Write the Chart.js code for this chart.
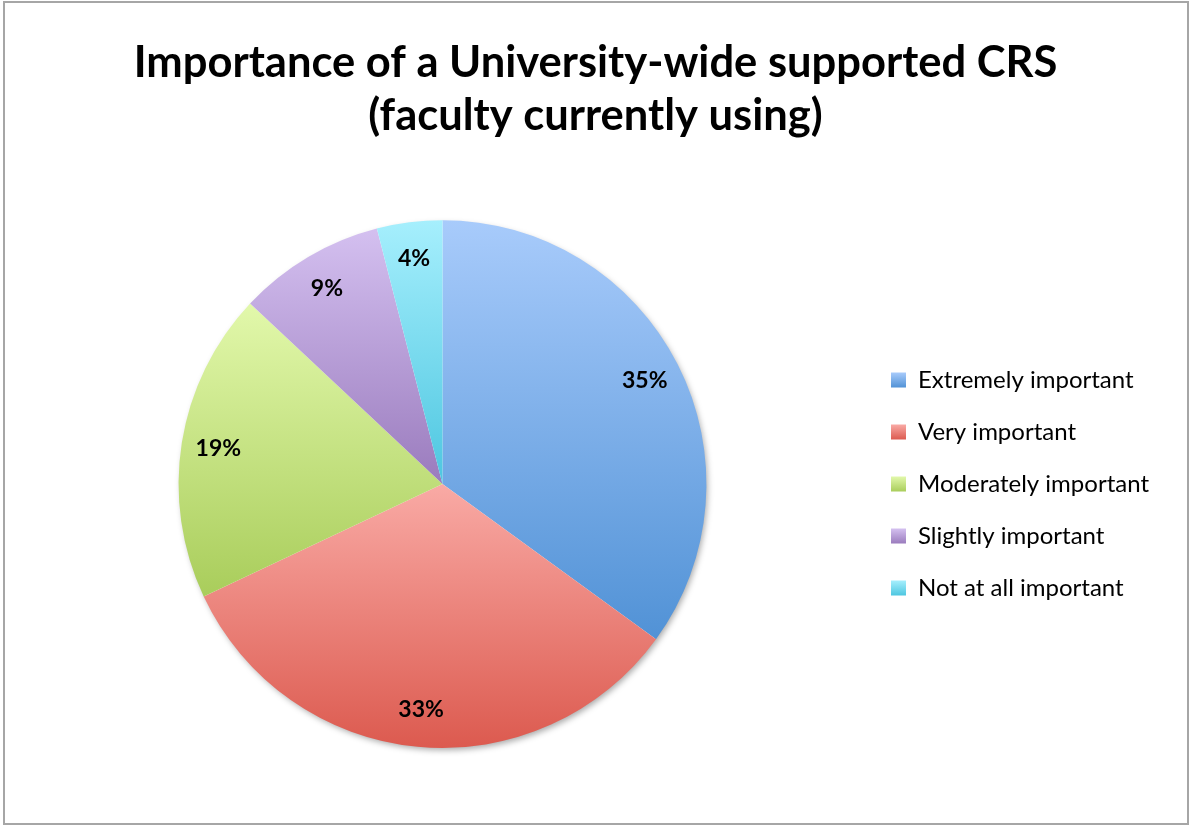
<!DOCTYPE html>
<html>
<head>
<meta charset="utf-8">
<script src="https://cdn.jsdelivr.net/npm/chart.js@4/dist/chart.umd.min.js"></script>
<style>
  html, body { margin: 0; padding: 0; background: #fff; overflow: hidden; }
  #wrap { position: absolute; left: 0; top: 0; width: 1189px; height: 825px; }
  #frame { position: absolute; left: 3px; top: 1px; width: 1186px; height: 824px; box-sizing: border-box; border: 2px solid #a6a6a6; pointer-events: none; }
</style>
</head>
<body>
<div id="wrap"><canvas id="c" width="1189" height="825"></canvas></div>
<div id="frame"></div>
<script>
const titleLines = ['Importance of a University-wide supported CRS', '(faculty currently using)'];
const categories = ['Extremely important', 'Very important', 'Moderately important', 'Slightly important', 'Not at all important'];
const values = [35, 33, 19, 9, 4];
const topColors = ['#a8cbfb', '#f9aaa5', '#e2f8ab', '#d4c0f0', '#a6effd'];
const bottomColors = ['#5192d6', '#dc5a4f', '#a9cd5b', '#9a7bbd', '#4dc6e0'];
const midColors = ['#7cafe9', '#ec8279', '#c6e384', '#b79ed7', '#7adbef'];

const FONT = 'Lato, "Open Sans", sans-serif';

function sliceGradient(context) {
  const chart = context.chart;
  const area = chart.chartArea;
  const i = context.dataIndex;
  if (!area || i === undefined) return midColors[i || 0];
  const cx = (area.left + area.right) / 2;
  const cy = (area.top + area.bottom) / 2;
  const r = Math.min(area.width, area.height) / 2;
  const total = values.reduce((a, b) => a + b, 0);
  let cum = 0;
  for (let k = 0; k < i; k++) cum += values[k];
  const start = -Math.PI / 2 + 2 * Math.PI * cum / total;
  const end = start + 2 * Math.PI * values[i] / total;
  const ys = [cy, cy + r * Math.sin(start), cy + r * Math.sin(end)];
  for (let n = -2; n <= 2; n++) {
    const a1 = Math.PI / 2 + 2 * Math.PI * n;
    const a2 = -Math.PI / 2 + 2 * Math.PI * n;
    if (a1 > start && a1 < end) ys.push(cy + r);
    if (a2 > start && a2 < end) ys.push(cy - r);
  }
  const y0 = Math.min(...ys), y1 = Math.max(...ys);
  const g = chart.ctx.createLinearGradient(0, y0, 0, y1);
  g.addColorStop(0, topColors[i]);
  g.addColorStop(1, bottomColors[i]);
  return g;
}

const shadowPlugin = {
  id: 'pieShadow',
  beforeDatasetsDraw(chart) {
    const meta = chart.getDatasetMeta(0);
    if (!meta.data.length) return;
    const arc = meta.data[0];
    const ctx = chart.ctx;
    ctx.save();
    ctx.shadowColor = 'rgba(0,0,0,0.35)';
    ctx.shadowBlur = 6;
    ctx.shadowOffsetX = 2;
    ctx.shadowOffsetY = 3;
    ctx.fillStyle = '#ffffff';
    ctx.beginPath();
    ctx.arc(arc.x, arc.y, arc.outerRadius - 1, 0, Math.PI * 2);
    ctx.fill();
    ctx.restore();
  }
};

const legendPlacePlugin = {
  id: 'legendPlace',
  afterLayout(chart) {
    const lg = chart.legend;
    if (lg) {
      lg.top = chart.chartArea.top;
      lg.bottom = chart.chartArea.bottom;
      lg.height = lg.bottom - lg.top;
      lg.left -= 10;
      lg.right -= 10;
      if (typeof lg.adjustHitBoxes === 'function') lg.adjustHitBoxes();
    }
    const tb = chart.titleBlock;
    if (tb) {
      tb.left += 5;
      tb.right += 5;
    }
  }
};

const labelPlugin = {
  id: 'pctLabels',
  afterDatasetsDraw(chart) {
    const meta = chart.getDatasetMeta(0);
    const ctx = chart.ctx;
    ctx.save();
    ctx.font = 'bold 23px ' + FONT;
    ctx.fillStyle = '#000';
    ctx.textAlign = 'center';
    ctx.textBaseline = 'middle';
    meta.data.forEach((arc, i) => {
      const mid = (arc.startAngle + arc.endAngle) / 2;
      const rr = arc.outerRadius * 0.86;
      const x = arc.x + Math.cos(mid) * rr;
      const y = arc.y + Math.sin(mid) * rr;
      ctx.fillText(values[i] + '%', x, y);
    });
    ctx.restore();
  }
};

const chart = new Chart(document.getElementById('c'), {
  type: 'pie',
  data: {
    labels: categories,
    datasets: [{
      data: values,
      backgroundColor: sliceGradient,
      borderWidth: 0,
      borderColor: 'rgba(0,0,0,0)'
    }]
  },
  plugins: [shadowPlugin, legendPlacePlugin, labelPlugin],
  options: {
    responsive: false,
    animation: false,
    events: [],
    layout: { padding: { left: 12, right: 20, top: 0, bottom: 77 } },
    plugins: {
      tooltip: { enabled: false },
      title: {
        display: true,
        text: titleLines,
        color: '#000',
        font: { family: FONT, size: 43.5, weight: 'bold', lineHeight: 1.22 },
        padding: { top: 36, bottom: 78 }
      },
      legend: {
        position: 'right',
        align: 'center',
        labels: {
          boxWidth: 15,
          boxHeight: 15,
          padding: 28,
          color: '#000',
          font: { family: FONT, size: 24 },
          generateLabels(ch) {
            const hb = ch.legend && ch.legend.legendHitBoxes;
            return categories.map((label, i) => {
              let fill = midColors[i];
              if (hb && hb[i]) {
                const top = hb[i].top + (hb[i].height - 15) / 2;
                const g = ch.ctx.createLinearGradient(0, top, 0, top + 15);
                g.addColorStop(0, topColors[i]);
                g.addColorStop(1, bottomColors[i]);
                fill = g;
              }
              return { text: label, fillStyle: fill, strokeStyle: 'rgba(0,0,0,0)', lineWidth: 0, hidden: false, index: i, fontColor: '#000' };
            });
          }
        }
      }
    }
  }
});
chart.update();
</script>
</body>
</html>
